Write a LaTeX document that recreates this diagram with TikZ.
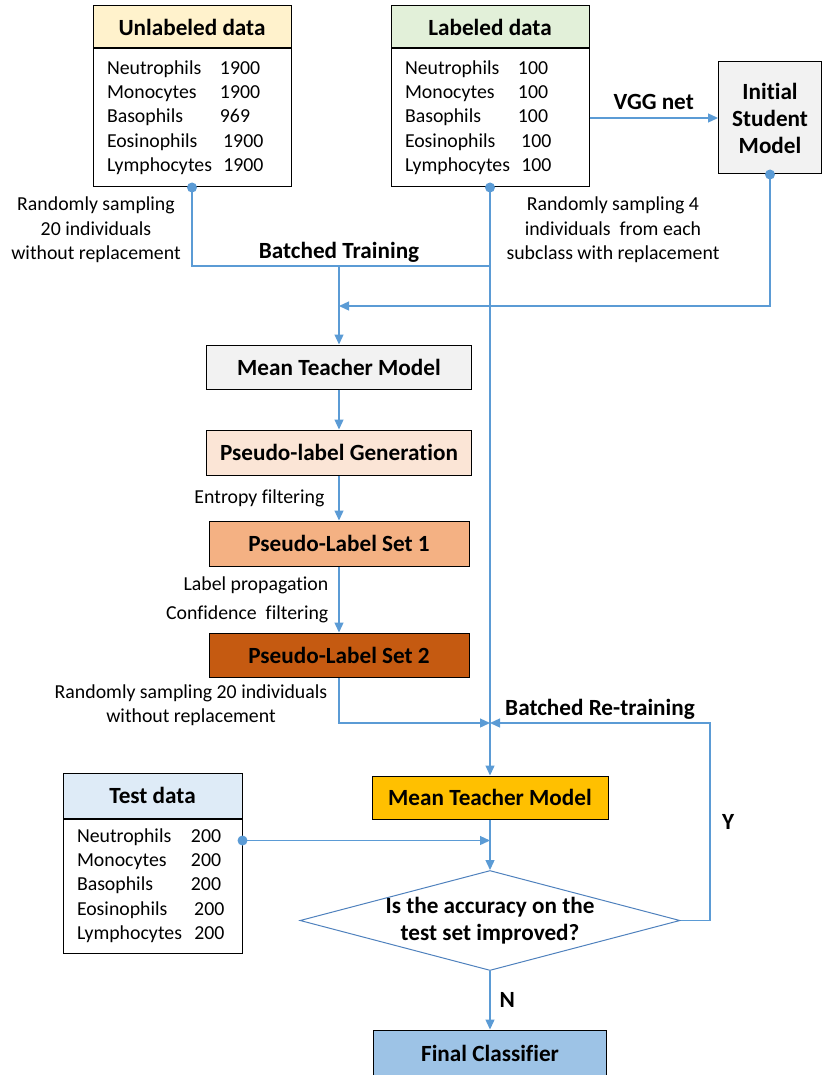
\documentclass[tikz,border=0pt]{standalone}
\usepackage{fontspec}
\setmainfont{Carlito}[Ligatures=NoCommon]
\usetikzlibrary{positioning, arrows.meta, shapes.geometric}

\definecolor{flowblue}{HTML}{5B9BD5}
\definecolor{edgeblue}{HTML}{4F81BD}
\definecolor{unlabfill}{HTML}{FFF2CC}
\definecolor{labfill}{HTML}{E2F0D9}
\definecolor{testfill}{HTML}{DEEBF7}
\definecolor{greyfill}{HTML}{F2F2F2}
\definecolor{genfill}{HTML}{FBE5D6}
\definecolor{setafill}{HTML}{F4B183}
\definecolor{setbfill}{HTML}{C55A11}
\definecolor{mtmfill}{HTML}{FFC000}
\definecolor{finalfill}{HTML}{9DC3E6}

\newcommand{\txtfont}{\fontsize{19.8}{24.3}\selectfont}
\newcommand{\bfont}{\fontsize{23.2}{27}\selectfont\bfseries}

\tikzset{
  datahead/.style={draw, line width=1pt, minimum width=198pt, minimum height=42pt, inner sep=0pt, font=\bfont},
  databody/.style={draw, line width=1pt, text width=170pt, inner xsep=14pt, inner ysep=0pt,
    minimum height=138pt, align=left, font=\txtfont},
  procbox/.style={draw, line width=1pt, minimum width=265pt, minimum height=44pt, inner sep=0pt, font=\bfont},
  decision/.style={diamond, draw=edgeblue, line width=1pt, aspect=3.8, inner xsep=-10pt, inner ysep=0pt,
    minimum width=380pt, minimum height=100pt, align=center, font=\bfont},
  flowline/.style={draw=flowblue, line width=1.3pt},
  flowarrow/.style={flowline, -{Triangle[length=10pt, width=9pt]}},
  sidenote/.style={inner sep=0pt, align=center, font=\txtfont},
  edgetag/.style={inner sep=0pt, font=\bfont}
}

\begin{document}
\begin{tikzpicture}[x=1pt, y=-1pt]
\useasboundingbox (0,0) rectangle (822,1075);

% data sets
\node[datahead, fill=unlabfill] (unlab-head) at (192,27) {Unlabeled data};
\node[databody, below=0pt of unlab-head] (unlab) {\begin{tabular}{@{}p{113pt}@{}l@{}}
  Neutrophils & 1900\\ Monocytes & 1900\\ Basophils & 969\\ Eosinophils & \,1900\\ Lymphocytes & \,1900
\end{tabular}};
\node[datahead, fill=labfill] (lab-head) at (490,27) {Labeled data};
\node[databody, below=0pt of lab-head] (lab) {\begin{tabular}{@{}p{113pt}@{}l@{}}
  Neutrophils & 100\\ Monocytes & 100\\ Basophils & 100\\ Eosinophils & \,100\\ Lymphocytes & \,100
\end{tabular}};
\node[datahead, fill=testfill, minimum width=179pt, minimum height=45pt] (test-head) at (152.5,795.5) {Test data};
\node[databody, text width=151pt, minimum height=134pt, below=0pt of test-head] (test) {\begin{tabular}{@{}p{114pt}@{}l@{}}
  Neutrophils & 200\\ Monocytes & 200\\ Basophils & 200\\ Eosinophils & \,200\\ Lymphocytes & \,200
\end{tabular}};

% models and label sets
\node[procbox, fill=greyfill, minimum width=103pt, minimum height=112pt, align=center] (init) at (770,118)
  {Initial\\Student\\Model};
\node[procbox, fill=greyfill] (mtm1) at (339,367) {Mean Teacher Model};
\node[procbox, fill=genfill, minimum height=45pt] (gen) at (339,452.5) {Pseudo-label Generation};
\node[procbox, fill=setafill, minimum width=260pt, minimum height=45pt] (set1) at (339,543.5) {Pseudo-Label Set 1};
\node[procbox, fill=setbfill, minimum width=260pt] (set2) at (339,655) {Pseudo-Label Set 2};
\node[procbox, fill=mtmfill, minimum width=236pt, minimum height=43pt] (mtm2) at (490,797.5) {Mean Teacher Model};
\node[decision] (dec) at (490,920.5) {Is the accuracy on the\\test set improved?};
\node[procbox, fill=finalfill, minimum width=233pt, minimum height=46pt] (final) at (490,1053) {Final Classifier};

% notes
\node[sidenote] (note-unlab) at (96,230) {Randomly sampling\\20 individuals\\without replacement};
\node[sidenote] (note-lab) at (613,230) {Randomly sampling 4\\individuals~ from each\\subclass with replacement};
\node[sidenote] (note-set2) at (191,705.5) {Randomly sampling 20 individuals\\without replacement};

% junctions
\coordinate (bt) at (339,266);
\coordinate (st) at (339,306);
\coordinate (rt) at (490,723);
\coordinate (yr) at (710,723);
\coordinate (test-out) at ([yshift=-22pt]test.north east);

% connectors
\draw[flowline] (unlab.south) |- (lab.south |- bt);
\node[edgetag, above=3pt] (tag-bt) at (bt) {Batched Training};
\draw[flowarrow] (bt) -- (mtm1.north);
\draw[flowarrow] (init.south) |- (st);
\draw[flowarrow] (lab.east) -- node[edgetag, above=8pt] (tag-vgg) {VGG net} (lab.east -| init.west);
\draw[flowarrow] (lab.south) -- (mtm2.north);
\draw[flowarrow] (mtm1) -- (gen);
\draw[flowarrow] (gen) -- node[sidenote, left=14pt] (tag-ent) {Entropy filtering} (set1);
\draw[flowarrow] (set1) -- node[sidenote, left=10pt, align=right, font=\fontsize{19.8}{29}\selectfont] (tag-prop)
  {Label propagation\\Confidence~ filtering} (set2);
\draw[flowarrow] (set2.south) |- (rt);
\draw[flowarrow] (dec.east) -| (yr) -- node[edgetag, above=3pt] (tag-re) {Batched Re-training} (rt);
\path (yr) -- node[edgetag, right=12pt] (tag-y) {Y} (yr |- dec.east);
\draw[flowarrow] (test-out) -- (test-out -| mtm2.south);
\draw[flowarrow] (mtm2) -- (dec);
\draw[flowarrow] (dec) -- node[edgetag, right=9pt] (tag-n) {N} (final);

% end dots
\foreach \pt in {unlab.south, lab.south, init.south, test-out}
  \fill[flowblue] (\pt) circle (5pt);
\end{tikzpicture}
\end{document}
